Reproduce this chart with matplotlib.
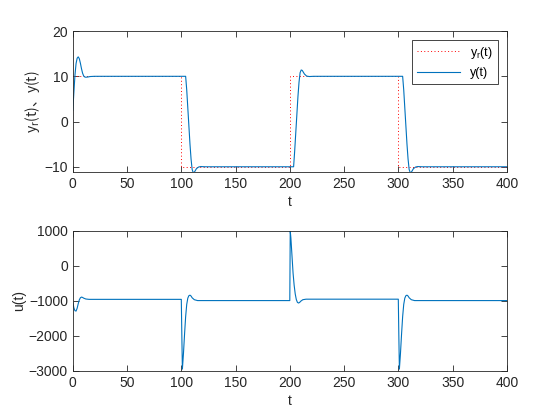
import numpy as np
import matplotlib
matplotlib.use("Agg")
import matplotlib.pyplot as plt

# reference square wave y_r(t)
yr_t = [0, 100, 100, 200, 200, 300, 300, 400]
yr_val = [10, 10, -10, -10, 10, 10, -10, -10]

# output y(t)
y_t = [0, 1, 2, 3, 4, 5, 6, 7, 8, 9, 10, 11, 12, 14, 16, 20,
       100, 104, 105, 106, 107, 108, 109, 110, 111, 112, 113, 114, 116, 118, 122,
       200, 203.5, 204.5, 205.5, 206.5, 207.5, 208.5, 209.5, 210.5, 211.5, 212.5, 213.5, 215.5, 218, 222,
       300, 304, 305, 306, 307, 308, 309, 310, 311, 312, 313, 314, 316, 318, 322,
       400]
y_val = [2.5, 6.5, 10.3, 12.8, 14.0, 14.3, 13.9, 12.9, 11.7, 10.7, 10.1, 9.85, 9.8, 9.85, 9.95, 10.0,
         10.0, 10.0, 7.0, 3.0, -1.0, -5.0, -8.3, -10.6, -11.3, -11.2, -10.8, -10.4, -10.05, -9.95, -10.0,
         -10.0, -10.0, -6.5, -2.5, 1.5, 5.5, 8.7, 10.8, 11.4, 11.3, 10.9, 10.5, 10.05, 9.95, 10.0,
         10.0, 10.0, 7.0, 3.0, -1.0, -5.0, -8.3, -10.6, -11.3, -11.2, -10.8, -10.4, -10.05, -9.95, -10.0,
         -10.0]

# control input u(t)
u_t = [0, 1, 2, 3, 4, 5, 6, 7, 8, 9, 10, 12, 15,
       100, 100.5, 101, 102, 103, 104, 105, 106, 107, 108, 109, 110, 112, 115,
       200, 200.4, 201, 202, 203, 204, 205, 206, 207, 208, 209, 210, 212, 215,
       300, 300.5, 301, 302, 303, 304, 305, 306, 307, 308, 309, 310, 312, 315,
       400]
u_val = [-1040, -1200, -1280, -1290, -1210, -1080, -970, -910, -890, -900, -920, -945, -955,
         -955, -2000, -2950, -2500, -1950, -1450, -1100, -920, -850, -835, -860, -910, -965, -990,
         -990, 1000, 800, 300, -200, -550, -800, -960, -1040, -1060, -1045, -1010, -965, -950,
         -950, -2000, -2950, -2500, -1950, -1450, -1100, -920, -850, -835, -860, -910, -965, -990,
         -990]

plt.rcParams['font.family'] = ['Liberation Sans', 'Noto Sans CJK SC']
plt.rcParams['font.size'] = 10
dark = '#262626'
blue = '#0072BD'

fig = plt.figure(figsize=(5.6, 4.2), dpi=100)
ax1 = fig.add_axes([0.130, 0.590, 0.775, 0.336])
ax2 = fig.add_axes([0.130, 0.117, 0.775, 0.333])


def style(ax):
    ax.tick_params(direction='in', top=True, right=True, colors=dark,
                   length=4, width=0.6, labelsize=10)
    for s in ax.spines.values():
        s.set_color(dark)
        s.set_linewidth(0.6)
    ax.set_xlim(0, 400)
    ax.set_xticks(np.arange(0, 401, 50))
    ax.set_xlabel('t', color=dark, labelpad=3)


ax1.plot(yr_t, yr_val, color='r', lw=0.7, dashes=(1, 2.5), label=r'y$_\mathregular{r}$(t)')
ax1.plot(y_t, y_val, '-', color=blue, lw=0.8, label='y(t)')
ax1.set_ylim(-11.2, 20)
ax1.set_yticks([-10, 0, 10, 20])
ax1.set_ylabel(r'y$_\mathregular{r}$(t)、y(t)', color=dark, family='Noto Sans CJK SC',
               labelpad=2)
style(ax1)
leg = ax1.legend(loc='upper right', fontsize=9, fancybox=False, framealpha=1,
                 edgecolor=dark, handlelength=3.5, borderaxespad=0.7)
leg.get_frame().set_linewidth(0.6)

ax2.plot(u_t, u_val, '-', color=blue, lw=0.8)
ax2.set_ylim(-3000, 1000)
ax2.set_yticks([-3000, -2000, -1000, 0, 1000])
ax2.set_ylabel('u(t)', color=dark, labelpad=2)
style(ax2)

fig.savefig('out.png', dpi=100)
